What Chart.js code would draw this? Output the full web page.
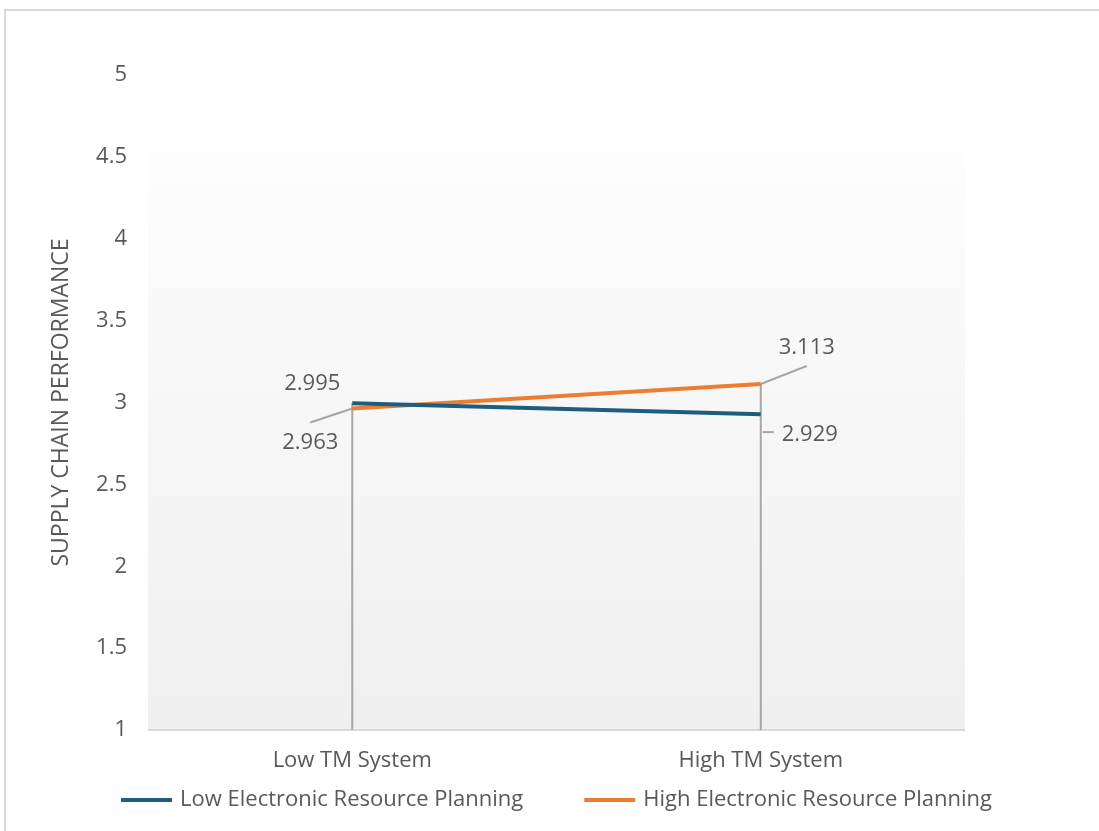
<!DOCTYPE html>
<html>
<head>
<meta charset="utf-8">
<title>Supply Chain Performance</title>
<script src="https://cdn.jsdelivr.net/npm/chart.js@4.4.1/dist/chart.umd.min.js"></script>
<style>
  html, body { margin: 0; padding: 0; background: #ffffff; }
  body { width: 1099px; height: 831px; position: relative; overflow: hidden; }
  #frame {
    position: absolute; left: 4px; top: 9px; width: 1200px; height: 900px;
    border-left: 2px solid #d9d9d9; border-top: 2px solid #d9d9d9;
    box-sizing: border-box;
  }
  #wrap { position: absolute; left: 0; top: 0; width: 1099px; height: 831px; }
</style>
</head>
<body>
<div id="frame"></div>
<div id="wrap"><canvas id="chart" width="1099" height="831"></canvas></div>
<script>
// Categories and series values
const categories = ['Low TM System', 'High TM System'];
const lowERP = [2.995, 2.929];
const highERP = [2.963, 3.113];
const seriesNames = ['Low Electronic Resource Planning', 'High Electronic Resource Planning'];
const yTicks = [1, 1.5, 2, 2.5, 3, 3.5, 4, 4.5, 5];
const yTitle = 'SUPPLY CHAIN PERFORMANCE';

const BLUE = '#1c5d80';
const ORANGE = '#ed7d31';
const TEXT = '#595959';
const FONT = '"Open Sans", "DejaVu Sans", sans-serif';
const FS = 22;

// Soft gradient panel behind the plot
const panelPlugin = {
  id: 'panel',
  beforeDatasetsDraw(chart) {
    const { ctx, chartArea, scales } = chart;
    const top = scales.y.getPixelForValue(4.5) - 6;
    const g = ctx.createLinearGradient(0, top, 0, chartArea.bottom);
    g.addColorStop(0, '#fdfdfd');
    g.addColorStop(1, '#efefef');
    ctx.save();
    ctx.fillStyle = g;
    ctx.fillRect(chartArea.left, top, chartArea.right - chartArea.left, chartArea.bottom - top);
    // bottom axis line
    ctx.strokeStyle = '#d9d9d9';
    ctx.lineWidth = 2;
    ctx.beginPath();
    ctx.moveTo(chartArea.left, chartArea.bottom);
    ctx.lineTo(chartArea.right, chartArea.bottom);
    ctx.stroke();
    // drop lines from the highest point of each category to the axis
    ctx.strokeStyle = '#a6a6a6';
    ctx.lineWidth = 2;
    categories.forEach((c, i) => {
      const x = scales.x.getPixelForValue(i);
      const hi = Math.max(lowERP[i], highERP[i]);
      ctx.beginPath();
      ctx.moveTo(x, scales.y.getPixelForValue(hi));
      ctx.lineTo(x, chartArea.bottom);
      ctx.stroke();
    });
    ctx.restore();
  }
};

// Value labels with leader lines
const labelPlugin = {
  id: 'valueLabels',
  afterDatasetsDraw(chart) {
    const { ctx, scales } = chart;
    const xs = scales.x, ys = scales.y;
    const fmt = v => v.toFixed(3);
    ctx.save();
    ctx.font = FS + 'px ' + FONT;
    ctx.fillStyle = TEXT;
    ctx.textAlign = 'center';
    ctx.textBaseline = 'middle';
    ctx.strokeStyle = '#a6a6a6';
    ctx.lineWidth = 2;

    // Low TM: low ERP above-left, high ERP below-left with leader
    const x0 = xs.getPixelForValue(0);
    const yA = ys.getPixelForValue(lowERP[0]);
    const yB = ys.getPixelForValue(highERP[0]);
    ctx.fillText(fmt(lowERP[0]), x0 - 40, yA - 20);
    ctx.beginPath();
    ctx.moveTo(x0 - 42, yB + 14);
    ctx.lineTo(x0, yB);
    ctx.stroke();
    ctx.fillText(fmt(highERP[0]), x0 - 42, yB + 34);

    // High TM: high ERP above-right with leader, low ERP below-right with leader
    const x1 = xs.getPixelForValue(1);
    const yC = ys.getPixelForValue(highERP[1]);
    const yD = ys.getPixelForValue(lowERP[1]);
    ctx.beginPath();
    ctx.moveTo(x1, yC);
    ctx.lineTo(x1 + 46, yC - 18);
    ctx.stroke();
    ctx.fillText(fmt(highERP[1]), x1 + 46, yC - 36);
    ctx.beginPath();
    ctx.moveTo(x1 + 2, yD + 18);
    ctx.lineTo(x1 + 13, yD + 18);
    ctx.stroke();
    ctx.fillText(fmt(lowERP[1]), x1 + 49, yD + 21);
    ctx.restore();
  }
};

// Legend row drawn under the axis
const legendPlugin = {
  id: 'lineLegend',
  afterDraw(chart) {
    const { ctx } = chart;
    const y = 800;
    const sample = 51, gapText = 8, gapItem = 61;
    ctx.save();
    ctx.font = FS + 'px ' + FONT;
    ctx.textBaseline = 'middle';
    ctx.textAlign = 'left';
    const ds = chart.data.datasets;
    const widths = ds.map(d => sample + gapText + ctx.measureText(d.label).width);
    const total = widths.reduce((a, b) => a + b, 0) + gapItem * (ds.length - 1);
    let x = (chart.chartArea.left + chart.chartArea.right) / 2 - total / 2;
    ds.forEach((d, i) => {
      ctx.fillStyle = d.borderColor;
      ctx.fillRect(x, y - 2, sample, 4);
      ctx.fillStyle = TEXT;
      ctx.fillText(d.label, x + sample + gapText, y);
      x += widths[i] + gapItem;
    });
    ctx.restore();
  }
};

new Chart(document.getElementById('chart'), {
  type: 'line',
  data: {
    labels: categories,
    datasets: [
      { label: seriesNames[0], data: lowERP, borderColor: BLUE, backgroundColor: BLUE,
        borderWidth: 4, pointRadius: 0, tension: 0 },
      { label: seriesNames[1], data: highERP, borderColor: ORANGE, backgroundColor: ORANGE,
        borderWidth: 4, pointRadius: 0, tension: 0 }
    ]
  },
  options: {
    responsive: false,
    animation: false,
    devicePixelRatio: 1,
    layout: { padding: { left: 40, right: 134, top: 75, bottom: 0 } },
    plugins: {
      legend: { display: false },
      tooltip: { enabled: false }
    },
    scales: {
      x: {
        type: 'category',
        offset: true,
        grid: { display: false, drawTicks: false },
        border: { display: false },
        ticks: { color: TEXT, font: { family: FONT, size: FS }, padding: 18 },
        afterFit(scale) { scale.height = 101; }
      },
      y: {
        min: 1, max: 5,
        afterBuildTicks(scale) { scale.ticks = yTicks.map(v => ({ value: v })); },
        grid: { display: false, drawTicks: false },
        border: { display: false },
        ticks: { color: TEXT, font: { family: FONT, size: FS }, padding: 21,
                 callback: v => String(v) },
        title: { display: true, text: yTitle, color: TEXT,
                 font: { family: FONT, size: 23, weight: 'normal' }, padding: { top: 8, bottom: 0 } },
        afterFit(scale) { scale.width = 108; }
      }
    }
  },
  plugins: [panelPlugin, labelPlugin, legendPlugin]
});
</script>
</body>
</html>
